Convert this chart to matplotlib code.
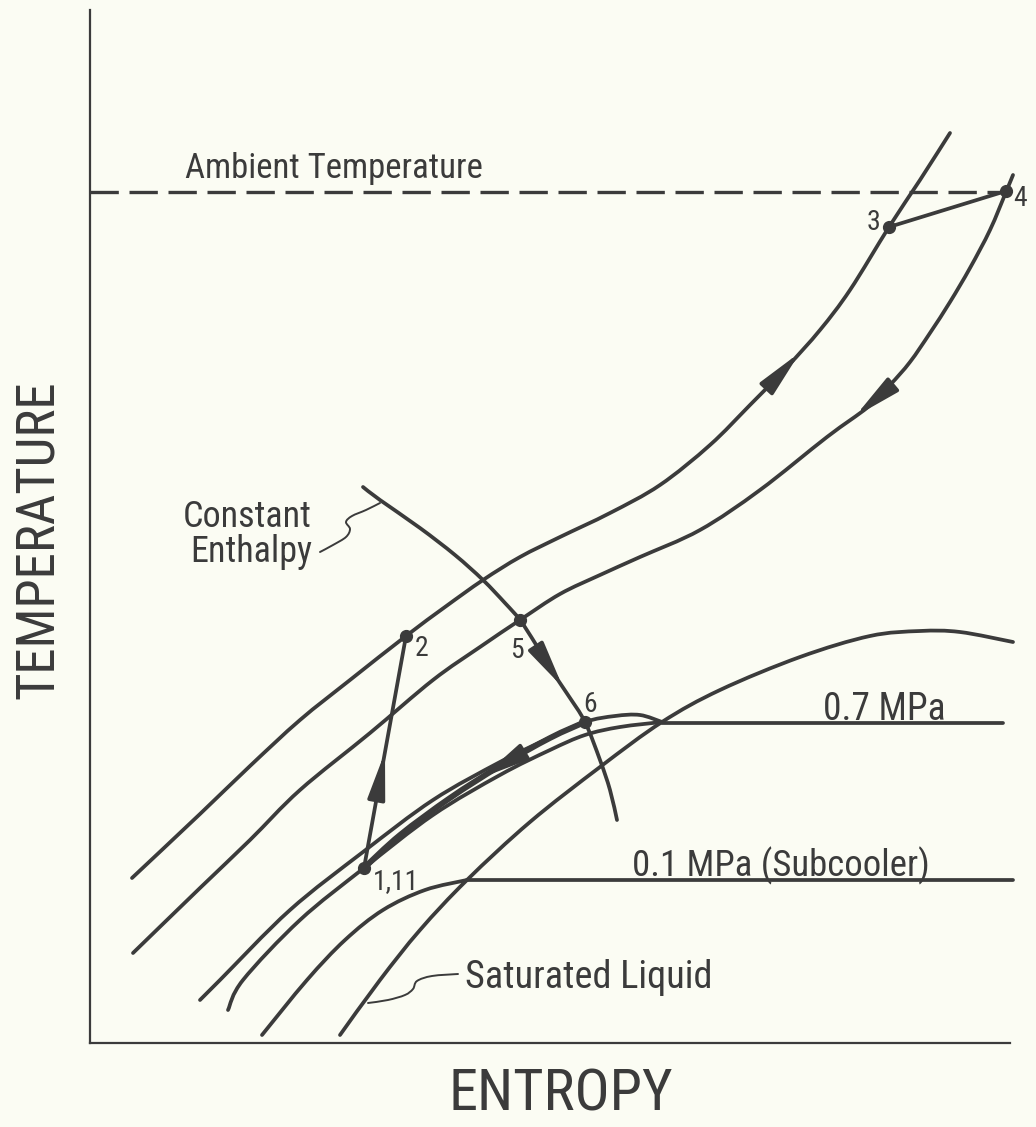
import numpy as np
import matplotlib
matplotlib.use("Agg")
import matplotlib.pyplot as plt
from matplotlib import font_manager as fm
from matplotlib.path import Path
from matplotlib.patches import PathPatch

# ---------------- data (entropy s, temperature T; arbitrary schematic units) -------------
# high-pressure stream being warmed (2 -> 3)
hp_warm_s = [132, 200, 250, 300, 350, 406, 445, 483, 520, 560, 610, 660, 710, 750, 787, 820, 850, 889, 920, 950]
hp_warm_T = [222, 286, 334, 380, 420, 464, 493, 520, 543, 563, 587, 615, 655, 695, 733, 770, 810, 873, 920, 967]

# high-pressure stream being cooled (4 -> 5)
hp_cool_s = [133, 200, 250, 300, 370, 433, 480, 520, 560, 600, 640, 700, 760, 827, 868, 890, 910, 930, 950, 970, 990, 1006, 1013]
hp_cool_T = [147, 212, 260, 310, 367, 420, 453, 480, 506, 525, 543, 570, 610, 663, 693, 715, 738, 767, 798, 832, 870, 908, 925]

# constant enthalpy line (5 -> 6)
enth_s = [363, 380, 420, 455, 483, 505, 520, 535, 550, 568, 585, 600, 610, 617]
enth_T = [613, 600, 572, 545, 520, 497, 480, 457, 432, 405, 378, 340, 310, 280]

# saturated liquid / saturation dome
sat_s = [340, 380, 420, 467, 530, 600, 662, 720, 800, 870, 920, 960, 1013]
sat_T = [65, 120, 170, 220, 278, 333, 378, 410, 443, 464, 469, 468, 458]

# 0.1 MPa isobar, liquid branch
p01_liq_s = [262, 307, 345, 383, 425, 467]
p01_liq_T = [65, 120, 160, 190, 210, 220]

# 0.7 MPa isobar, two liquid-side branches (upper / lower)
p07_up_s = [200, 220, 290, 363, 433, 500, 545, 585, 615, 640, 662]
p07_up_T = [100, 120, 190, 248, 300, 338, 360, 378, 384, 385, 378]
p07_lo_s = [228, 243, 300, 364, 433, 500, 550, 585, 620, 662]
p07_lo_T = [90, 120, 180, 232, 285, 325, 350, 365, 373, 378]

# low-pressure return path (6 -> 1)
ret_s = [585, 550, 500, 450, 400, 364]
ret_T = [378, 362, 334, 302, 265, 232]

# horizontal isobars and ambient temperature
p07_flat_s = [662, 1003]
p07_flat_T = [377, 377]
p01_flat_s = [467, 1013]
p01_flat_T = [220, 220]
ambient_s = [90, 1006]
ambient_T = [908, 908]

# state points
state_labels = ["1,11", "2", "3", "4", "5", "6"]
state_s = [364, 406, 889, 1006, 520, 585]
state_T = [232, 464, 873, 909, 480, 378]

# ---------------- style -------------------------------------------------------------------
BG = "#fbfcf3"
INK = "#3b3b3b"
names = {f.name for f in fm.fontManager.ttflist}
FONT = "DejaVu Sans"
for cand in ["Liberation Sans Narrow", "Roboto Condensed", "Open Sans Condensed",
             "Liberation Sans", "Roboto"]:
    if cand in names:
        FONT = cand
        break
FAM = [FONT, "DejaVu Sans"]

fig = plt.figure(figsize=(10.36, 11.27), dpi=100, facecolor=BG)
W, H = 1036, 1127
ax = fig.add_axes([90 / W, (H - 1043) / H, (1010 - 90) / W, (1043 - 10) / H])
ax.set_facecolor(BG)
ax.set_xlim(90, 1010)
ax.set_ylim(57, 1090)
for sp in ["top", "right"]:
    ax.spines[sp].set_visible(False)
for sp in ["left", "bottom"]:
    ax.spines[sp].set_color(INK)
    ax.spines[sp].set_linewidth(1.6)
ax.set_xticks([])
ax.set_yticks([])

LW = 2.7


def smooth(xs, ys, lw=LW, z=2):
    """draw a smooth curve through the given points (Catmull-Rom as cubic Bezier)"""
    P = np.column_stack([xs, ys]).astype(float)
    n = len(P)
    verts = [P[0]]
    codes = [Path.MOVETO]
    for i in range(n - 1):
        p0 = P[i - 1] if i > 0 else P[i]
        p1, p2 = P[i], P[i + 1]
        p3 = P[i + 2] if i + 2 < n else P[i + 1]
        verts += [p1 + (p2 - p0) / 6.0, p2 - (p3 - p1) / 6.0, p2]
        codes += [Path.CURVE4] * 3
    ax.add_patch(PathPatch(Path(verts, codes), fill=False, edgecolor=INK, lw=lw,
                           capstyle="round", joinstyle="round", clip_on=False, zorder=z))


smooth(hp_warm_s, hp_warm_T)
smooth(hp_cool_s, hp_cool_T)
smooth(enth_s, enth_T)
smooth(sat_s, sat_T)
smooth(p01_liq_s, p01_liq_T)
smooth(p07_up_s, p07_up_T)
smooth(p07_lo_s, p07_lo_T)
smooth(ret_s, ret_T, lw=4.2)

kw = dict(color=INK, lw=LW, solid_capstyle="round", clip_on=False)
ax.plot(p07_flat_s, p07_flat_T, **kw)
ax.plot(p01_flat_s, p01_flat_T, **kw)
ax.plot(ambient_s, ambient_T, color=INK, lw=2.4, dashes=(8.5, 3.2), clip_on=False)

# process lines 1->2 and 3->4
ax.plot([state_s[0], state_s[1]], [state_T[0], state_T[1]], **kw)
ax.plot([state_s[2], state_s[3]], [state_T[2], state_T[3]], **kw)

ax.plot(state_s, state_T, "o", color=INK, ms=8.5, clip_on=False, zorder=5)

HEAD = "-|>,head_length=1.4,head_width=0.26"


def arrow_on(xs, ys, s_tip, back):
    """arrowhead on a curve; tip at entropy s_tip, tail 'back' units of s behind it"""
    order = np.argsort(xs)
    xs_o = np.asarray(xs, float)[order]
    ys_o = np.asarray(ys, float)[order]
    t_tip = np.interp(s_tip, xs_o, ys_o)
    t_tail = np.interp(s_tip - back, xs_o, ys_o)
    ax.annotate("", xy=(s_tip, t_tip), xytext=(s_tip - back, t_tail),
                arrowprops=dict(arrowstyle=HEAD, color=INK, lw=LW, shrinkA=0, shrinkB=0,
                                mutation_scale=20), annotation_clip=False)


arrow_on(hp_warm_s, hp_warm_T, 800, 22)
arrow_on(hp_cool_s, hp_cool_T, 855, -22)
arrow_on(enth_s, enth_T, 563, 14)
arrow_on(ret_s, ret_T, 482, -28)
# 1 -> 2 arrow (midway along the compression line)
s1, t1, s2, t2 = state_s[0], state_T[0], state_s[1], state_T[1]
ax.annotate("", xy=(s1 + 0.5 * (s2 - s1), t1 + 0.5 * (t2 - t1)),
            xytext=(s1 + 0.35 * (s2 - s1), t1 + 0.35 * (t2 - t1)),
            arrowprops=dict(arrowstyle=HEAD, color=INK, lw=LW, shrinkA=0, shrinkB=0,
                            mutation_scale=20))

# leader squiggles
lead_enth_s = [320, 333, 346, 350, 346, 352, 366, 380]
lead_enth_T = [548, 555, 563, 571, 578, 584, 590, 597]
smooth(lead_enth_s, lead_enth_T, lw=1.4)
lead_sat_s = [458, 432, 417, 413, 405, 388, 368]
lead_sat_T = [126, 124, 119, 111, 105, 100, 97]
smooth(lead_sat_s, lead_sat_T, lw=1.4)

# ---------------- text ----------------------------------------------------------------------
tk = dict(color=INK, family=FAM, clip_on=False)
ax.text(185, 922, "Ambient Temperature", fontsize=25, ha="left", va="baseline", **tk)
ax.text(312, 573, "Constant", fontsize=26, ha="right", va="baseline", **tk)
ax.text(312, 538, "Enthalpy", fontsize=26, ha="right", va="baseline", **tk)
ax.text(823, 380, "0.7 MPa", fontsize=27, ha="left", va="baseline", **tk)
ax.text(632, 224, "0.1 MPa (Subcooler)", fontsize=26.5, ha="left", va="baseline", **tk)
ax.text(465, 123, "Saturated Liquid", fontsize=27.5, ha="left", va="center", **tk)

lab_off = {"1,11": (9, -14), "2": (9, -12), "3": (-16, 4), "4": (14, -7), "5": (-3, -30), "6": (5, 17)}
for lab, s, t in zip(state_labels, state_s, state_T):
    dx, dy = lab_off[lab]
    ax.text(s + dx, t + dy, lab, fontsize=20, ha="left" if lab in ("1,11", "2") else "center",
            va="center", **tk)

ax.text(561, 5, "ENTROPY", fontsize=42, ha="center", va="center", **tk)
ax.text(38, 560, "TEMPERATURE", fontsize=38, ha="center", va="center", rotation=90, **tk)

fig.savefig("out.png", dpi=100, facecolor=BG)
